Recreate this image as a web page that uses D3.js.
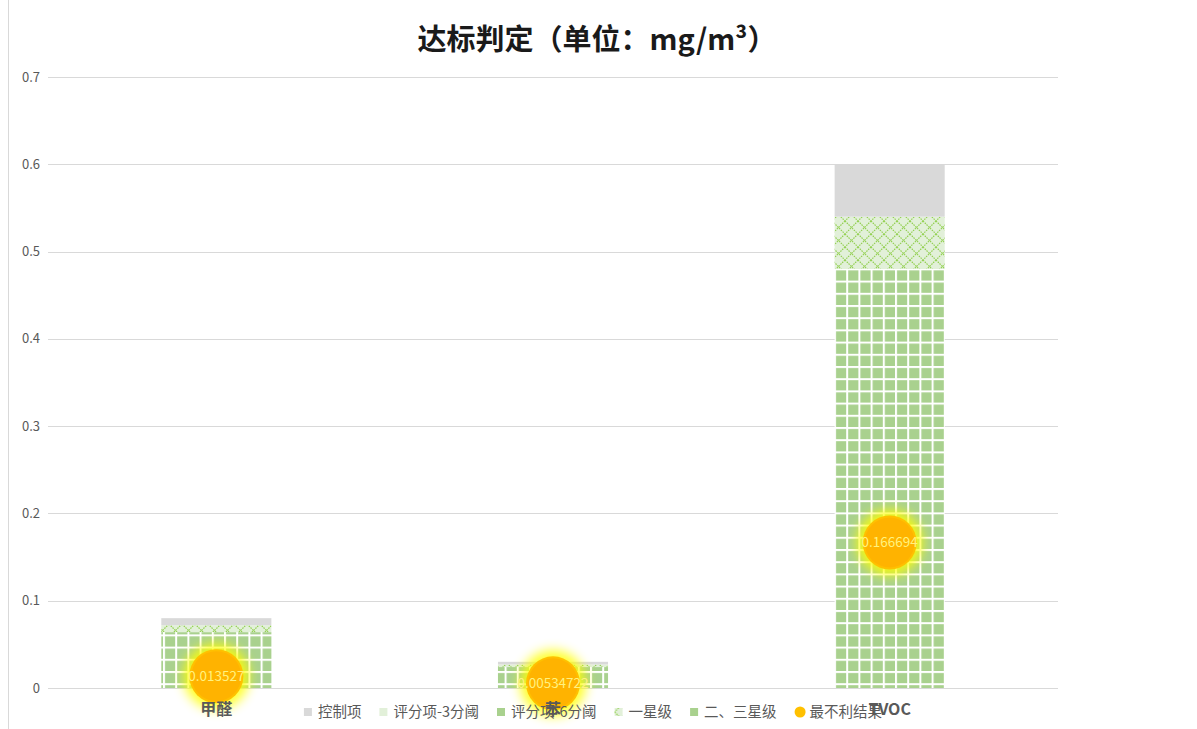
<!DOCTYPE html>
<html>
<head>
<meta charset="utf-8">
<script src="https://cdn.jsdelivr.net/npm/d3@7"></script>
<style>
	body { margin: 0; background: #fff; }
	svg { font-family: "Noto Sans CJK SC", "Noto Sans", sans-serif; }
</style>
</head>
<body>
<svg class="chart" width="1197" height="729"></svg>
<script>
// data
var categories = ['甲醛', '苯', 'TVOC'];
var controlItem = [0.008, 0.003, 0.06];      // 控制项 (top grey band)
var score3 = [0, 0, 0];                        // 评分项-3分阈
var score6 = [0, 0, 0];                        // 评分项-6分阈
var star1 = [0.008, 0.003, 0.06];             // 一星级 (hatched band)
var star23 = [0.064, 0.024, 0.48];            // 二、三星级 (grid band)
var worst = [0.013527, 0.00534722, 0.166694]; // 最不利结果
var worstLabels = ['0.013527', '0.00534722', '0.166694'];
var yTicks = [0, 0.1, 0.2, 0.3, 0.4, 0.5, 0.6, 0.7];

var legendItems = [
	{name: '控制项', fill: '#d9d9d9', shape: 'rect'},
	{name: '评分项-3分阈', fill: '#e2f0d9', shape: 'rect'},
	{name: '评分项-6分阈', fill: '#a9d18e', shape: 'rect'},
	{name: '一星级', fill: 'url(#hatch)', shape: 'rect'},
	{name: '二、三星级', fill: '#a9d18e', shape: 'rect'},
	{name: '最不利结果', fill: '#ffc000', shape: 'circle'}
];

var svg = d3.select('svg.chart');
var plotLeft = 48, plotRight = 1058, plotTop = 77, plotBottom = 688;

var defs = svg.append('defs');
var grid = defs.append('pattern')
	.attr('id', 'grid')
	.attr('patternUnits', 'userSpaceOnUse')
	.attr('width', 12.2).attr('height', 12.2)
	.attr('x', 163).attr('y', 0);
grid.append('rect').attr('width', 12.2).attr('height', 12.2).attr('fill', '#fff');
grid.append('rect').attr('x', 2).attr('y', 2).attr('width', 10.2).attr('height', 10.2).attr('fill', '#a9d18e');

var hatch = defs.append('pattern')
	.attr('id', 'hatch')
	.attr('patternUnits', 'userSpaceOnUse')
	.attr('width', 13).attr('height', 13);
hatch.append('rect').attr('width', 13).attr('height', 13).attr('fill', '#e2f0d9');
hatch.append('path')
	.attr('d', 'M0,0L13,13M13,0L0,13')
	.attr('stroke', '#92d050')
	.attr('stroke-width', 1.2)
	.attr('stroke-dasharray', '1.5,1');

var glow = defs.append('filter').attr('id', 'glow')
	.attr('x', '-60%').attr('y', '-60%').attr('width', '220%').attr('height', '220%');
glow.append('feGaussianBlur').attr('stdDeviation', 6);

// chart border on the left
svg.append('line')
	.attr('x1', 8.5).attr('x2', 8.5).attr('y1', 0).attr('y2', 729)
	.attr('stroke', '#d9d9d9');

var x = d3.scaleBand().domain(categories).range([plotLeft, plotRight]).padding(0);
var y = d3.scaleLinear().domain([0, 0.7]).range([plotBottom, plotTop]);
var barW = x.bandwidth() * 0.327;

// gridlines
svg.append('g')
	.selectAll('line')
	.data(yTicks)
	.enter().append('line')
		.attr('x1', plotLeft).attr('x2', plotRight)
		.attr('y1', d => Math.round(y(d)) + 0.5)
		.attr('y2', d => Math.round(y(d)) + 0.5)
		.attr('stroke', '#d9d9d9');

svg.append('g')
	.selectAll('text')
	.data(yTicks)
	.enter().append('text')
		.attr('x', 40)
		.attr('y', d => y(d) + 4.5)
		.attr('text-anchor', 'end')
		.attr('font-size', 13)
		.attr('fill', '#595959')
		.text(d => d === 0 ? '0' : d3.format('.1f')(d));

// stacked bars
var rows = categories.map((c, i) => ({
	cat: c, star23: star23[i], score6: score6[i], star1: star1[i], score3: score3[i], control: controlItem[i]
}));
var keys = ['star23', 'score6', 'star1', 'score3', 'control'];
var fills = {star23: 'url(#grid)', score6: '#a9d18e', star1: 'url(#hatch)', score3: '#e2f0d9', control: '#d9d9d9'};
var stack = d3.stack().keys(keys)(rows);

svg.append('g')
	.selectAll('g')
	.data(stack)
	.enter().append('g')
		.attr('fill', d => fills[d.key])
	.selectAll('rect')
	.data(d => d)
	.enter().append('rect')
		.attr('x', d => x(d.data.cat) + x.bandwidth() / 2 - barW / 2)
		.attr('width', barW)
		.attr('y', d => y(d[1]))
		.attr('height', d => y(d[0]) - y(d[1]));

// worst-case dots
var dots = svg.append('g')
	.selectAll('g')
	.data(worst)
	.enter().append('g')
		.attr('transform', (d, i) => 'translate(' + (x(categories[i]) + x.bandwidth() / 2) + ',' + y(d) + ')');
dots.append('circle').attr('r', 33).attr('fill', '#ffff00').attr('opacity', 0.85).attr('filter', 'url(#glow)');
dots.append('circle').attr('r', 27).attr('fill', '#ffc000');
dots.append('circle').attr('r', 25).attr('fill', '#ffb300');
dots.append('text')
	.attr('y', 5)
	.attr('text-anchor', 'middle')
	.attr('font-size', 13.5)
	.attr('fill', '#fff27f')
	.text((d, i) => worstLabels[i]);

// legend
var legend = svg.append('g').attr('transform', 'translate(0,712)');
var lx = 0;
legendItems.forEach(item => {
	var g = legend.append('g').attr('transform', 'translate(' + lx + ',0)');
	if (item.shape === 'circle') {
		g.append('circle').attr('cx', 5.5).attr('cy', 0).attr('r', 5.5).attr('fill', item.fill);
	} else {
		g.append('rect').attr('x', 0).attr('y', -4).attr('width', 8).attr('height', 8).attr('fill', item.fill);
	}
	var t = g.append('text')
		.attr('x', item.shape === 'circle' ? 15 : 14)
		.attr('y', 5)
		.attr('font-size', 14.5)
		.attr('fill', '#595959')
		.text(item.name);
	lx += (item.shape === 'circle' ? 15 : 14) + t.node().getComputedTextLength() + 18;
});
lx -= 18;
legend.attr('transform', 'translate(' + (593 - lx / 2) + ',712)');

// category labels
svg.append('g')
	.selectAll('text')
	.data(categories)
	.enter().append('text')
		.attr('x', d => x(d) + x.bandwidth() / 2)
		.attr('y', 715)
		.attr('text-anchor', 'middle')
		.attr('font-size', 16)
		.attr('font-weight', 'bold')
		.attr('fill', '#595959')
		.text(d => d);

// title
svg.append('text')
	.attr('x', 597)
	.attr('y', 50)
	.attr('text-anchor', 'middle')
	.attr('font-size', 29)
	.attr('font-weight', 'bold')
	.attr('fill', '#1a1a1a')
	.text('达标判定（单位：mg/m³）');
</script>
</body>
</html>
